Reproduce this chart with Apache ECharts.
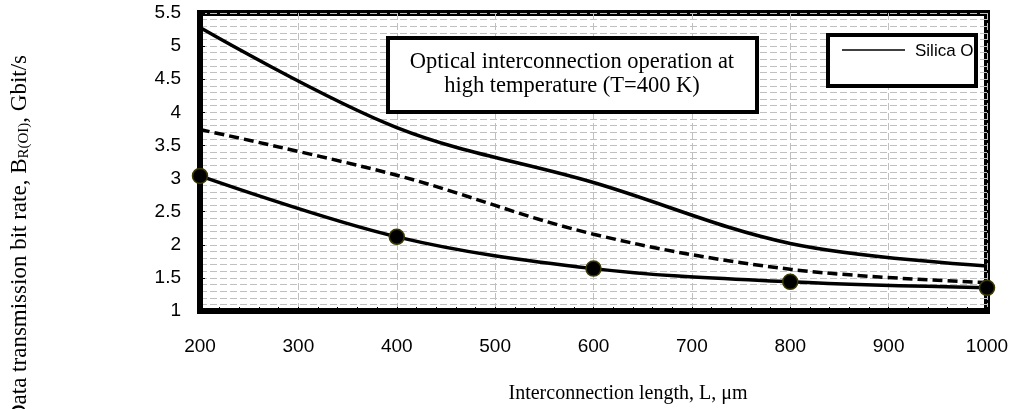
<!DOCTYPE html>
<html>
<head>
<meta charset="utf-8">
<script src="https://cdn.jsdelivr.net/npm/echarts@6/dist/echarts.min.js"></script>
<style>
html,body{margin:0;padding:0;background:#fff;}
#chart{width:1014px;height:409px;}
</style>
</head>
<body>
<div id="chart"></div>
<script>
// ---- data ----
const lengths = [200, 400, 600, 800, 1000];
const silicaTop = [5.28, 3.77, 2.94, 2.02, 1.68];
const dashedSeries = [3.74, 3.05, 2.16, 1.63, 1.43];
const markedSeries = [3.04, 2.12, 1.64, 1.44, 1.35];
const legendName = 'Silica O';
const xAxisTitle = 'Interconnection length, L, \u03bcm';
const yAxisTitle = 'Data transmission bit rate, B{sub|R(OI)}, Gbit/s';
const boxLines = ['Optical interconnection operation at', 'high temperature (T=400 K)'];

const pairs = arr => lengths.map((x, i) => [x, arr[i]]);

const chart = echarts.init(document.getElementById('chart'), null, {renderer: 'canvas'});
const grid = {left: 200, right: 27, top: 13, bottom: 98};
const gridCol = '#c0c0c0';

const option = {
  animation: false,
  backgroundColor: '#ffffff',
  grid: Object.assign({show: true, borderWidth: 6, borderColor: '#000', backgroundColor: '#fff'}, grid),
  xAxis: {
    type: 'value', min: 200, max: 1000, interval: 100,
    axisLine: {show: true, onZero: false, lineStyle: {color: '#000', width: 6}},
    axisTick: {show: true, inside: true, length: 4, lineStyle: {color: '#000', width: 1}},
    minorTick: {show: true, splitNumber: 5, length: 4, lineStyle: {color: '#000', width: 1}},
    axisLabel: {color: '#000', fontFamily: 'Liberation Sans', fontSize: 19, margin: 26, formatter: v => String(v)},
    splitLine: {show: true, lineStyle: {color: gridCol, width: 1, type: [7, 3]}}
  },
  yAxis: {
    type: 'value', min: 1, max: 5.5, interval: 0.5,
    axisLine: {show: true, onZero: false, lineStyle: {color: '#000', width: 6}},
    axisTick: {show: true, inside: true, length: 5, lineStyle: {color: '#000', width: 1}},
    axisLabel: {color: '#000', fontFamily: 'Liberation Sans', fontSize: 19, margin: 19, formatter: v => String(v)},
    splitLine: {show: true, lineStyle: {color: gridCol, width: 1, type: [7, 3]}},
    minorSplitLine: {show: true, lineStyle: {color: gridCol, width: 1, type: [7, 3]}},
    minorTick: {show: false, splitNumber: 5}
  },
  series: [
    {
      name: legendName, type: 'line', data: pairs(silicaTop), smooth: 0.35,
      showSymbol: false, symbol: 'none',
      lineStyle: {color: '#000', width: 3.5}, z: 3
    },
    {
      name: 'dashed', type: 'line', data: pairs(dashedSeries), smooth: 0.35,
      showSymbol: false, symbol: 'none',
      lineStyle: {color: '#000', width: 3.5, type: [10, 5]}, z: 3
    },
    {
      name: 'marked', type: 'line', data: pairs(markedSeries), smooth: 0.35,
      symbol: 'circle', symbolSize: 15, clip: false,
      itemStyle: {color: '#000', borderColor: '#3d3a00', borderWidth: 1.5},
      lineStyle: {color: '#000', width: 3.5}, z: 4
    }
  ],
  graphic: [
    // annotation box
    {type: 'rect', shape: {x: 388, y: 38, width: 369, height: 74}, style: {fill: '#fff', stroke: '#000', lineWidth: 4}, z: 10},
    {type: 'text', x: 572, y: 62, style: {text: boxLines[0], font: '22.5px "Liberation Serif"', fill: '#000', textAlign: 'center', textVerticalAlign: 'middle'}, z: 11},
    {type: 'text', x: 572, y: 86, style: {text: boxLines[1], font: '22.5px "Liberation Serif"', fill: '#000', textAlign: 'center', textVerticalAlign: 'middle'}, z: 11},
    // legend box
    {type: 'rect', shape: {x: 828, y: 35, width: 148, height: 51}, style: {fill: '#fff', stroke: null}, z: 10},
    {type: 'line', shape: {x1: 842, y1: 50, x2: 905, y2: 50}, style: {stroke: '#000', lineWidth: 1.5}, z: 11},
    {type: 'text', x: 915, y: 51, style: {text: legendName, font: '17px "Liberation Sans"', fill: '#000', textAlign: 'left', textVerticalAlign: 'middle'}, z: 11},
    {type: 'rect', shape: {x: 828, y: 35, width: 148, height: 51}, style: {fill: null, stroke: '#000', lineWidth: 4}, z: 12},
    // axis titles
    {type: 'text', x: 20, y: 238, rotation: Math.PI / 2,
      style: {text: yAxisTitle, fontFamily: 'Liberation Serif', fontSize: 23, fill: '#000', align: 'center', verticalAlign: 'middle',
        rich: {sub: {fontFamily: 'Liberation Serif', fontSize: 15, verticalAlign: 'bottom', fill: '#000'}}}, z: 11},
    {type: 'text', x: 628, y: 394,
      style: {text: xAxisTitle, font: '20px "Liberation Serif"', fill: '#000', textAlign: 'center', textVerticalAlign: 'middle'}, z: 11}
  ]
};
chart.setOption(option);
</script>
</body>
</html>
